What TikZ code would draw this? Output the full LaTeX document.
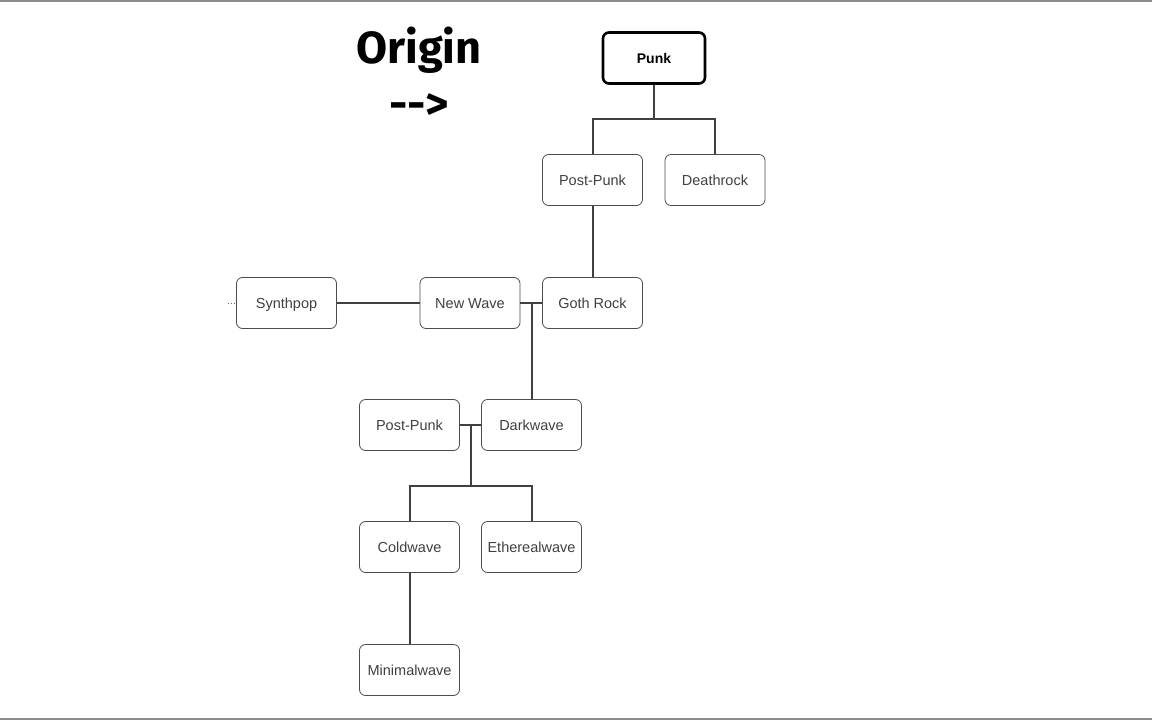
\documentclass[tikz,border=0pt]{standalone}
\usepackage{fontspec}
\setmainfont{Liberation Sans}
\newfontfamily\titlefont{Fira Sans}
\begin{document}
\begin{tikzpicture}[x=1pt,y=-1pt,
  genre/.style={draw=black!70,line width=0.8pt,rounded corners=6pt,minimum width=100pt,minimum height=51pt,inner sep=0pt,text height=10pt,text depth=0pt,text=black!75,font=\fontsize{14.5}{16}\selectfont},
  rootbox/.style={genre,draw=black,line width=2.6pt,text=black,font=\fontsize{14}{16}\selectfont\bfseries,minimum width=102pt,minimum height=51pt},
  link/.style={draw=black!75,line width=2pt},
  title/.style={font=\titlefont\bfseries\fontsize{45}{48}\selectfont,inner sep=0pt}]
\useasboundingbox (0,0) rectangle (1152,720);
\fill[white] (0,0) rectangle (1152,720);
\draw[black!45,line width=2pt] (0,1) -- (1152,1);
\draw[black!45,line width=2pt] (0,719) -- (1152,719);

\node[title] (origin) at (419,50) {Origin};
\node[title] (arrow) at (419,107) {-{}->};

\node[rootbox] (punk) at (654,58) {Punk};
\node[genre] (postpunk) at (592.5,180) {Post-Punk};
\node[genre] (deathrock) at (715,180) {Deathrock};
\node[genre] (goth) at (592.5,303) {Goth Rock};
\node[genre] (newwave) at (470,303) {New Wave};
\node[genre] (synth) at (286.5,303) {Synthpop};
\node[genre] (postpunkb) at (409.5,425) {Post-Punk};
\node[genre] (dark) at (531.5,425) {Darkwave};
\node[genre] (cold) at (409.5,547) {Coldwave};
\node[genre] (ether) at (531.5,547) {Etherealwave};
\node[genre] (minimal) at (409.5,670) {Minimalwave};

\coordinate (j1) at (654,119);
\coordinate (j2) at (531.5,303);
\coordinate (j3) at (470.5,425);
\coordinate (j4) at (470.5,486);
\coordinate (stub) at (228,303);

\draw[link] (punk.south) -- (j1);
\draw[link] (postpunk.north) |- (j1) -| (deathrock.north);
\draw[link] (postpunk.south) -- (goth.north);
\draw[link] (synth.east) -- (newwave.west);
\draw[link] (newwave.east) -- (goth.west);
\draw[link] (j2) -- (dark.north);
\draw[link] (postpunkb.east) -- (dark.west);
\draw[link] (j3) -- (j4);
\draw[link] (cold.north) |- (j4) -| (ether.north);
\draw[link] (cold.south) -- (minimal.north);
\draw[black!60,line width=0.8pt,dotted] (stub) -- (synth.west);
\end{tikzpicture}
\end{document}
